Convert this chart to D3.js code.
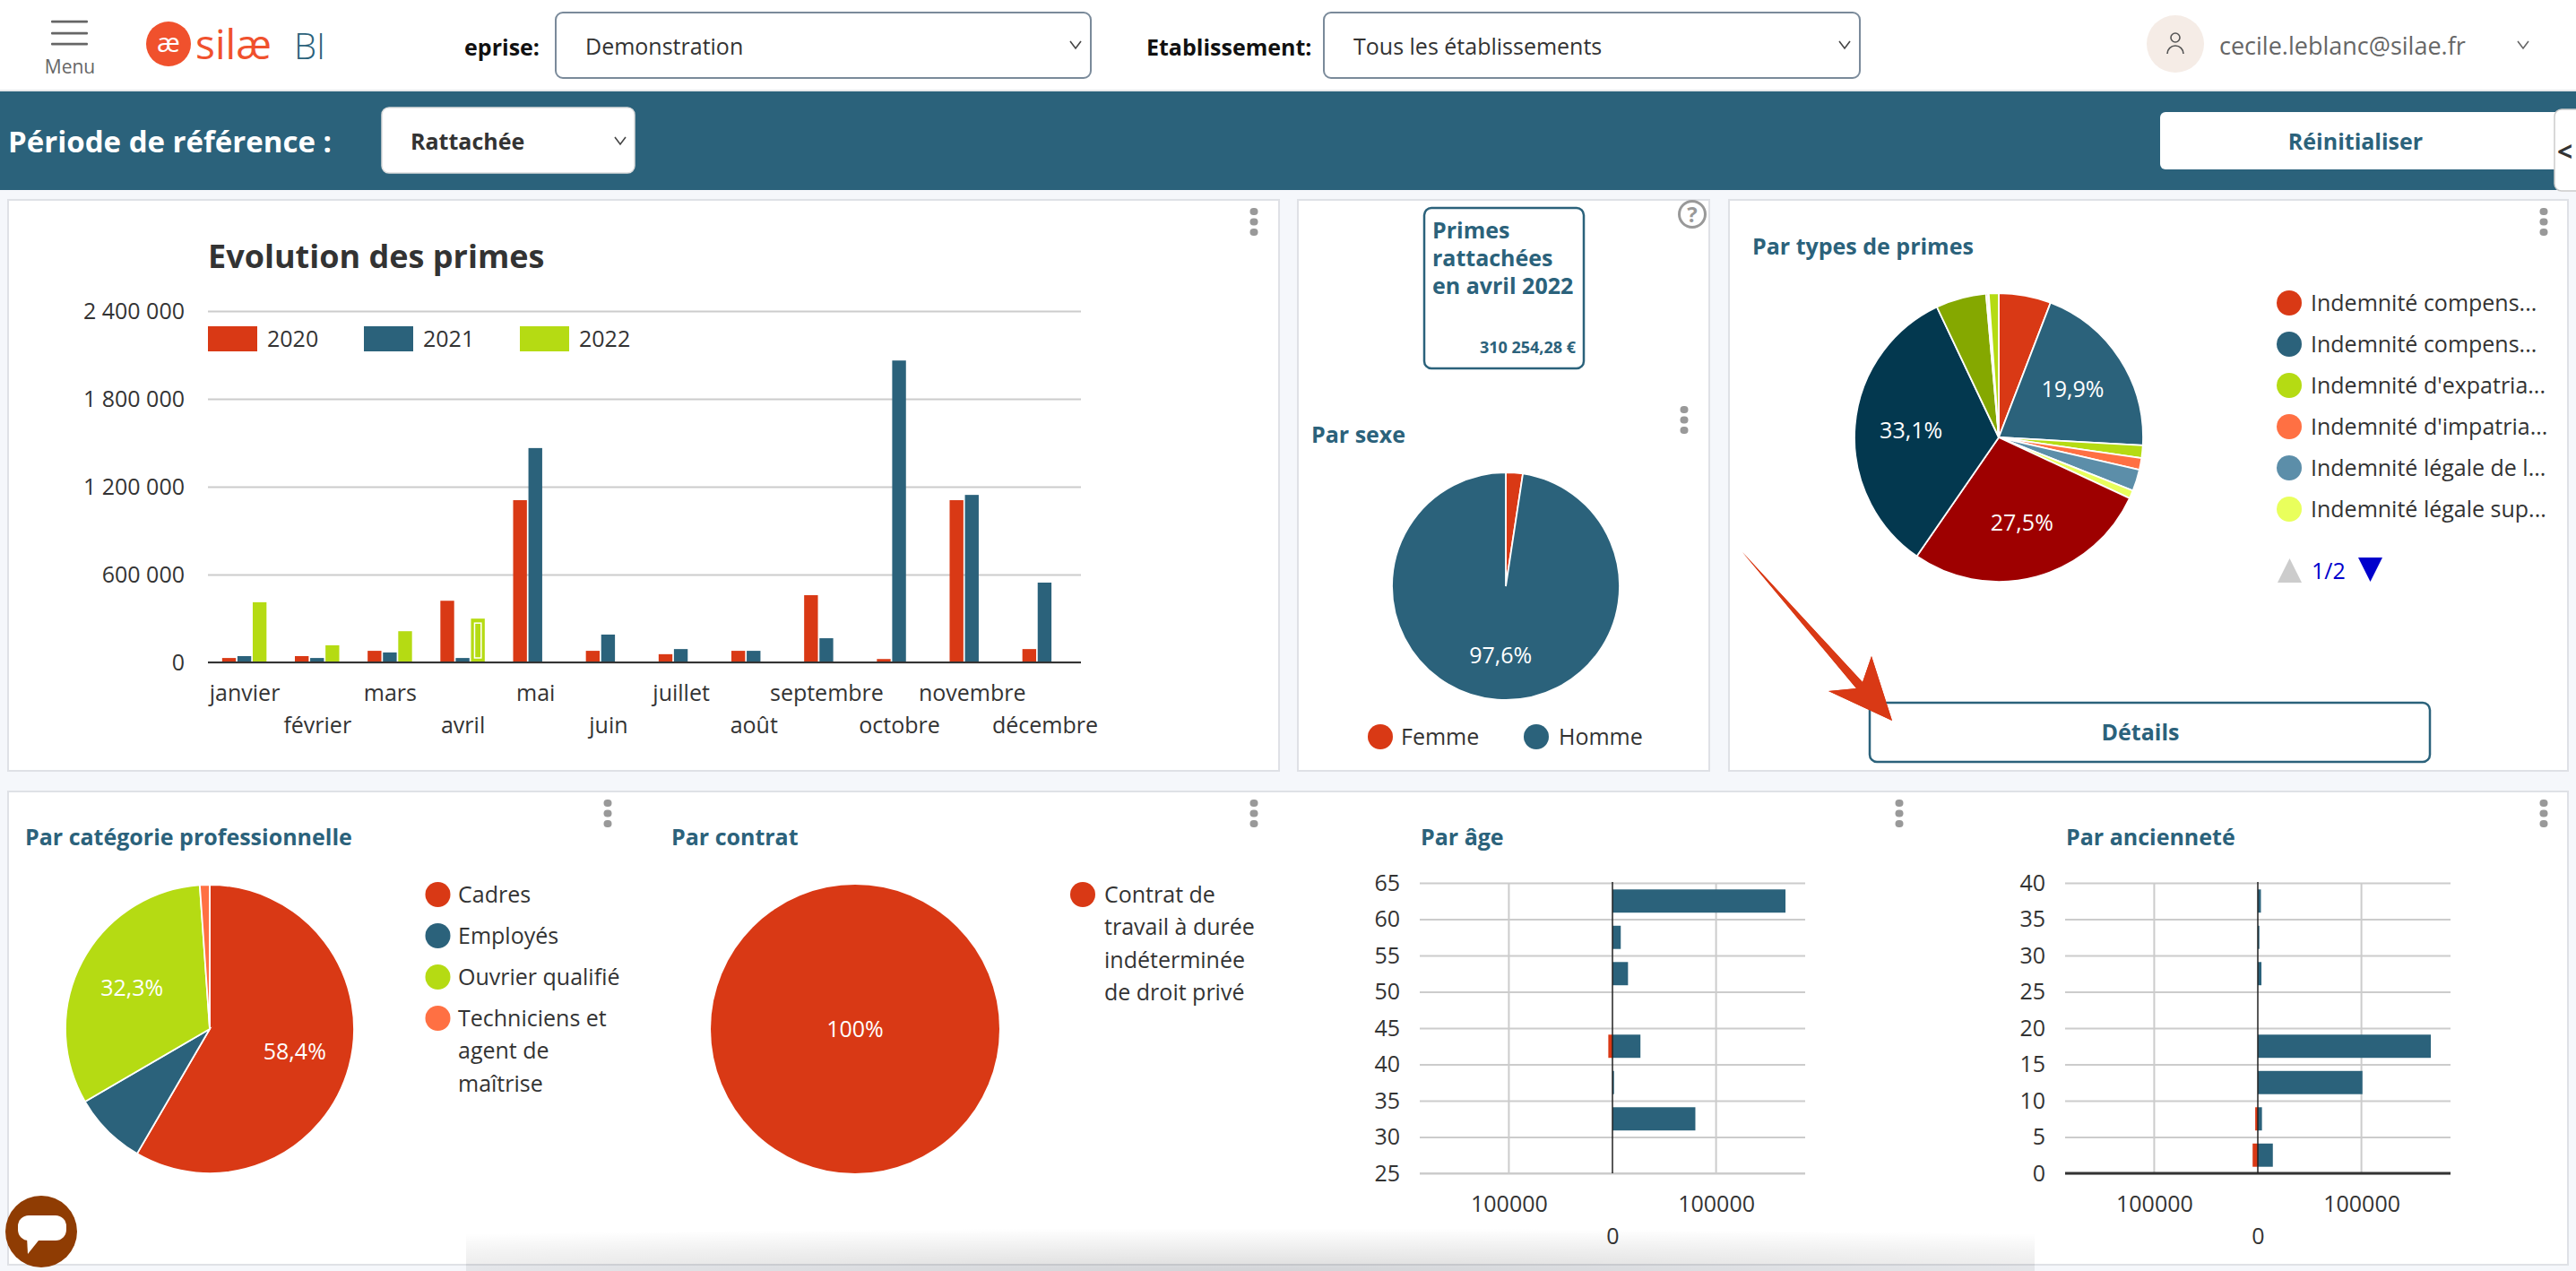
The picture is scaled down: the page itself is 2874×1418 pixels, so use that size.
<!DOCTYPE html>
<html lang="fr"><head><meta charset="utf-8">
<script src="https://cdn.jsdelivr.net/npm/d3@7"></script>
<style>
html,body{margin:0;padding:0;background:#f5f7fb;overflow:hidden}
svg{display:block}
text{font-family:"Open Sans",sans-serif;fill:#333}
.b{font-weight:700}
.teal{fill:#2b627b}
.domain{display:none}
</style></head><body>
<svg id="c" width="2874" height="1418" xmlns="http://www.w3.org/2000/svg"></svg>
<script>
// ---------- data ----------
const months=["janvier","février","mars","avril","mai","juin","juillet","août","septembre","octobre","novembre","décembre"];
const years=["2020","2021","2022"];
const values2020=[30000,43000,79000,421000,1108000,79000,56000,79000,459000,23000,1108000,91000];
const values2021=[43000,30000,68000,30000,1464000,190000,91000,79000,165000,2062000,1144000,545000];
const values2022=[411000,117000,213000,299000,0,0,0,0,0,0,0,0];
const yearTicks=[0,600000,1200000,1800000,2400000];
const sexLabels=["Femme","Homme"];
const sexValues=[2.4,97.6];
const typeLabels=["Indemnité compens...","Indemnité compens...","Indemnité d'expatria...","Indemnité d'impatria...","Indemnité légale de l...","Indemnité légale sup..."];
const typeValues=[5.8,19.9,1.4,1.3,2.4,0.9,27.5,33.1,5.6,0.2,0.1,1.1];
const catLabels=[["Cadres"],["Employés"],["Ouvrier qualifié"],["Techniciens et","agent de","maîtrise"]];
const catValues=[58.4,8.2,32.3,1.1];
const contractLabels=[["Contrat de","travail à durée","indéterminée","de droit privé"]];
const contractValues=[100];
const ageBins=["60-65","55-60","50-55","45-50","40-45","35-40","30-35","25-30"];
const ageHomme=[167000,8000,15000,0,27000,1500,80000,0];
const ageFemme=[0,0,0,0,-4000,0,0,0];
const ageTicks=[25,30,35,40,45,50,55,60,65];
const tenureBins=["35-40","30-35","25-30","20-25","15-20","10-15","5-10","0-5"];
const tenureHomme=[3000,1500,3500,0,167000,101000,4000,14500];
const tenureFemme=[0,0,0,0,0,0,-2500,-5000];
const tenureTicks=[0,5,10,15,20,25,30,35,40];
const hbarTicks=[-100000,0,100000];

// ---------- palette ----------
const RED="#d93915",TEAL="#2b627b",LIME="#b5db13",ORANGE="#ff7043";
const pieColors=[RED,TEAL,LIME,ORANGE,"#5c8ea9","#e9ff5c","#9e0000","#03384f","#85a800","#c4501b","#fbfdf0",LIME];
const FS=25;

const svg=d3.select("#c");
function rect(g,x,y,w,h,o={}){const r=g.append("rect").attr("x",x).attr("y",y).attr("width",w).attr("height",h);
  Object.entries(o).forEach(([k,v])=>r.attr(k,v));return r;}
function txt(g,x,y,s,o={}){const t=g.append("text").attr("x",x).attr("y",y).text(s);
  Object.entries(o).forEach(([k,v])=>{if(k==="cls")t.attr("class",v);else t.attr(k,v);});return t;}
function chevron(g,x,y,c="#444"){g.append("path").attr("d",`M${x-6},${y-4}L${x},${y+4}L${x+6},${y-4}`).attr("fill","none").attr("stroke",c).attr("stroke-width",1.6);}
function kebab(g,x,y){[0,11.5,23].forEach(d=>rect(g,x-4.5,y+d-4,9,8,{rx:4,fill:"#999"}));}

// ---------- page chrome ----------
rect(svg,0,0,2874,100,{fill:"#fff"});
rect(svg,0,100,2874,2,{fill:"#e6e8ea"});
rect(svg,0,102,2874,110,{fill:TEAL});
[24,37,49].forEach(y=>rect(svg,57,y-1.2,41,2.6,{fill:"#666",rx:1}));
txt(svg,78,82,"Menu",{"text-anchor":"middle","font-size":21,style:"fill:#666"});
svg.append("circle").attr("cx",188).attr("cy",49).attr("r",25).attr("fill","#f0512d");
txt(svg,188,58,"æ",{"text-anchor":"middle","font-size":30,style:"fill:#fff"});
txt(svg,218,66,"silæ",{"font-size":46,style:"fill:#f0512d"});
txt(svg,328,66,"BI",{"font-size":40,style:"fill:#2b627b;font-weight:300"});
txt(svg,602,62,"eprise:",{"text-anchor":"end","font-size":FS,cls:"b",style:"fill:#111"});
function select(x,w,label){rect(svg,x,14,w,73,{fill:"#fff",stroke:"#7a8a9a","stroke-width":2,rx:8});
  txt(svg,x+33,61,label,{"font-size":FS,style:"fill:#333"});chevron(svg,x+w-17,50);}
select(620,597,"Demonstration");
txt(svg,1279,62,"Etablissement:",{"font-size":FS,cls:"b",style:"fill:#111"});
select(1477,598,"Tous les établissements");
svg.append("circle").attr("cx",2427).attr("cy",49).attr("r",32).attr("fill","#f5ece6");
svg.append("circle").attr("cx",2427).attr("cy",42).attr("r",5).attr("fill","none").attr("stroke","#555").attr("stroke-width",1.6);
svg.append("path").attr("d","M2418,60a9,9 0 0 1 18,0").attr("fill","none").attr("stroke","#555").attr("stroke-width",1.6);
txt(svg,2476,61,"cecile.leblanc@silae.fr",{"font-size":27,style:"fill:#666"});
chevron(svg,2815,50,"#666");
txt(svg,9,170,"Période de référence :",{"font-size":33,cls:"b",style:"fill:#fff"});
rect(svg,426,120,282,73,{fill:"#fff",rx:8,stroke:"#ddd","stroke-width":1.5});
txt(svg,458,167,"Rattachée",{"font-size":FS,cls:"b"});chevron(svg,692,157);
rect(svg,2410,125,450,64,{fill:"#fff",rx:6});
txt(svg,2628,167,"Réinitialiser",{"font-size":FS,cls:"b teal","text-anchor":"middle"});
rect(svg,2850,122,40,91,{fill:"#fff",stroke:"#ccc","stroke-width":1.5,rx:8});
txt(svg,2853,180,"<",{"font-size":30,cls:"b"});

// ---------- panels ----------
[[9,223,1418,637],[1448,223,459,637],[1929,223,936,637],[9,883,2856,528]].forEach(p=>
  rect(svg,p[0],p[1],p[2],p[3],{fill:"#fff",stroke:"#dfe1e6","stroke-width":2}));
[[1399,236],[1879,457],[2838,236],[678,896],[1399,896],[2119,896],[2838,896]].forEach(k=>kebab(svg,k[0],k[1]));

// ---------- grouped bars ----------
const gBar=svg.append("g");
txt(gBar,232,299,"Evolution des primes",{"font-size":36,cls:"b"});
const x0=d3.scaleBand().domain(months).range([232,1206]).paddingInner(.39).paddingOuter(.195);
const x1=d3.scaleBand().domain(years).range([0,x0.bandwidth()]).paddingInner(.1);
const yB=d3.scaleLinear().domain([0,2400000]).range([739,347]);
const yAxis=d3.axisLeft(yB).tickValues(yearTicks).tickSize(-974).tickPadding(26)
  .tickFormat(d=>d3.format(",")(d).replace(/,/g," "));
const ya=gBar.append("g").attr("transform","translate(232,0)").call(yAxis);
ya.selectAll("line").attr("stroke","#ccc").attr("stroke-width",2);
ya.selectAll("text").attr("font-size",FS);
const seriesByYear={"2020":values2020,"2021":values2021,"2022":values2022};
const seriesColor=d3.scaleOrdinal().domain(years).range([RED,TEAL,LIME]);
years.forEach(yr=>{
  gBar.append("g").selectAll("rect").data(months.map((m,i)=>({m,v:seriesByYear[yr][i]})).filter(d=>d.v>0)).join("rect")
   .attr("x",d=>x0(d.m)+x1(yr)).attr("y",d=>yB(d.v)).attr("width",x1.bandwidth()).attr("height",d=>yB(0)-yB(d.v))
   .attr("fill",seriesColor(yr));
});
// highlighted bar: avril 2022
rect(gBar,x0("avril")+x1("2022")+4,yB(values2022[3])+5,x1.bandwidth()-8,yB(0)-yB(values2022[3])-10,{fill:"none",stroke:"#fff","stroke-width":1.5});
gBar.append("line").attr("x1",232).attr("x2",1206).attr("y1",yB(0)).attr("y2",yB(0)).attr("stroke","#333").attr("stroke-width",2);
const xa=gBar.append("g").attr("transform","translate(0,739)").call(d3.axisBottom(d3.scalePoint().domain(months).range([x0.step()*.5+232,1206-x0.step()*.5])).tickSize(0));
xa.selectAll("text").attr("font-size",FS).attr("y",(d,i)=>i%2?70:34).attr("dy",".35em");
years.forEach((yr,i)=>{
  const sx=[232,406,580][i];
  rect(gBar,sx,364,55,28,{fill:seriesColor(yr)});
  txt(gBar,sx+66,387,yr,{"font-size":FS});
});

// ---------- pies ----------
function pie(cx,cy,R,vals,colors,minLabel){
  const g=svg.append("g").attr("transform",`translate(${cx},${cy})`);
  const a=d3.pie().sort(null)(vals);
  const arc=d3.arc().innerRadius(0).outerRadius(R);
  const lab=d3.arc().innerRadius(R*.61).outerRadius(R*.61);
  g.selectAll("path").data(a).join("path").attr("d",arc).attr("fill",(d,i)=>colors[i])
    .attr("stroke",vals.length>1?"#fff":"none").attr("stroke-width",1.8);
  a.filter(d=>d.value>=minLabel).forEach(d=>{
    const p=vals.length>1?lab.centroid(d):[0,0];
    txt(g,p[0],p[1],(String(d.value).replace(".",","))+"%",{"text-anchor":"middle",dy:".35em","font-size":FS,style:"fill:#fff"});
  });
}
pie(1680,654,127,sexValues,[RED,TEAL],10);
pie(2230,488,161,typeValues,pieColors,10);
pie(234,1148,161,catValues,[RED,TEAL,LIME,ORANGE],10);
pie(954,1148,161,contractValues,[RED],10);

// ---------- legends ----------
function dot(x,y,c){svg.append("circle").attr("cx",x).attr("cy",y).attr("r",14).attr("fill",c);}
[[1540,1563],[1714,1739]].forEach((p,i)=>{dot(p[0],822,[RED,TEAL][i]);txt(svg,p[1],831,sexLabels[i],{"font-size":FS});});
typeLabels.forEach((l,i)=>{const y=338+i*46;dot(2554,y,pieColors[i]);txt(svg,2578,y+9,l,{"font-size":FS});});
svg.append("path").attr("d","M2541,650L2554.5,623L2568,650Z").attr("fill","#ccc");
txt(svg,2579,646,"1/2",{"font-size":FS,style:"fill:#0000cc"});
svg.append("path").attr("d","M2631,622L2658,622L2644.5,649Z").attr("fill","#0000cc");
function wrapLegend(labels,cxDot,xText,colors){let y=998;labels.forEach((ls,i)=>{
  const row=[998,1044,1090,1136][i];dot(cxDot,row,colors[i]);
  ls.forEach((l,j)=>txt(svg,xText,row+9+j*36.3,l,{"font-size":FS}));});}
wrapLegend(catLabels,488.5,511,[RED,TEAL,LIME,ORANGE]);
wrapLegend(contractLabels,1208,1232,[RED]);

// ---------- KPI ----------
rect(svg,1589,232,178,179,{fill:"#fff",stroke:TEAL,"stroke-width":2.5,rx:8});
["Primes","rattachées","en avril 2022"].forEach((s,i)=>txt(svg,1598,266+i*31.2,s,{"font-size":25,cls:"b teal"}));
txt(svg,1758,394,"310 254,28 €",{"text-anchor":"end","font-size":18,cls:"b teal"});
svg.append("circle").attr("cx",1888).attr("cy",239).attr("r",14.5).attr("fill","#fff").attr("stroke","#999").attr("stroke-width",3);
txt(svg,1888,248,"?",{"text-anchor":"middle","font-size":24,cls:"b",style:"fill:#999"});

// ---------- titles ----------
[[1463,494,"Par sexe"],[1955,284,"Par types de primes"],[28,943,"Par catégorie professionnelle"],[749,943,"Par contrat"],[1585,943,"Par âge"],[2305,943,"Par ancienneté"]]
 .forEach(t=>txt(svg,t[0],t[1],t[2],{"font-size":25,cls:"b teal"}));

// ---------- butterfly bars ----------
function hbar(left,bins,homme,femme,ticks,baseColor,baseWidth){
  const g=svg.append("g");
  const xS=d3.scaleLinear().domain([-186000,186000]).range([left,left+430]);
  const yL=d3.scaleLinear().domain([ticks[0],ticks[ticks.length-1]]).range([1309,985]);
  const yBand=d3.scaleBand().domain(bins).range([985,1309]).paddingInner(.36).paddingOuter(.18);
  const va=g.append("g").attr("transform",`translate(${xS(-186000)},0)`).call(d3.axisLeft(yL).tickValues(ticks).tickFormat(d3.format("d")).tickSize(-430).tickPadding(22));
  va.selectAll("line").attr("stroke","#ccc").attr("stroke-width",2.2);
  va.selectAll("text").attr("font-size",FS);
  const ha=g.append("g").attr("transform","translate(0,1309)").call(d3.axisBottom(xS).tickValues(hbarTicks).tickFormat(d=>String(Math.abs(d))).tickSize(0));
  ha.selectAll("text").attr("font-size",FS).attr("dy",".35em").attr("y",d=>d===0?70:34);
  hbarTicks.filter(d=>d!==0).forEach(d=>g.append("line").attr("x1",xS(d)).attr("x2",xS(d)).attr("y1",985).attr("y2",1309).attr("stroke","#ccc").attr("stroke-width",2));
  g.append("line").attr("x1",left).attr("x2",left+430).attr("y1",1309).attr("y2",1309).attr("stroke",baseColor).attr("stroke-width",baseWidth);
  g.append("g").selectAll("rect").data(bins.map((b,i)=>({b,v:homme[i]})).filter(d=>d.v>0)).join("rect")
    .attr("x",xS(0)).attr("y",d=>yBand(d.b)).attr("width",d=>xS(d.v)-xS(0)).attr("height",yBand.bandwidth()).attr("fill",TEAL);
  g.append("g").selectAll("rect").data(bins.map((b,i)=>({b,v:femme[i]})).filter(d=>d.v<0)).join("rect")
    .attr("x",d=>xS(d.v)).attr("y",d=>yBand(d.b)).attr("width",d=>xS(0)-xS(d.v)).attr("height",yBand.bandwidth()).attr("fill",RED);
  g.append("line").attr("x1",xS(0)).attr("x2",xS(0)).attr("y1",984).attr("y2",1309).attr("stroke","#222").attr("stroke-width",1.5);
}
hbar(1584,ageBins,ageHomme,ageFemme,ageTicks,"#ccc",2.2);
hbar(2304,tenureBins,tenureHomme,tenureFemme,tenureTicks,"#333",3);

// ---------- annotation arrow ----------
svg.append("path").attr("d","M1944,616L2078,761L2088,732L2111,804L2040,771L2071,768Z").attr("fill",RED);
rect(svg,2086,784,625,66,{fill:"none",stroke:TEAL,"stroke-width":2.5,rx:8});
svg.append("path").attr("d","M1944,616L2078,761L2088,732L2111,804L2040,771L2071,768Z").attr("fill",RED);
txt(svg,2388,826,"Détails",{"text-anchor":"middle","font-size":FS,cls:"b teal"});

// ---------- chat bubble & bottom shadow ----------
const defs=svg.append("defs");
const grad=defs.append("radialGradient").attr("id","sh").attr("cx",.5).attr("cy",1).attr("r",1);
grad.append("stop").attr("offset",0).attr("stop-color","#000").attr("stop-opacity",.14);
grad.append("stop").attr("offset",1).attr("stop-color","#000").attr("stop-opacity",0);
rect(svg,520,1370,1750,48,{fill:"url(#sh)"});
svg.append("circle").attr("cx",46).attr("cy",1374).attr("r",40).attr("fill","#8f3c03");
rect(svg,20,1356,54,28,{fill:"#fff",rx:12});
svg.append("path").attr("d","M30,1380L43,1384L31,1399Z").attr("fill","#fff");
</script></body></html>
